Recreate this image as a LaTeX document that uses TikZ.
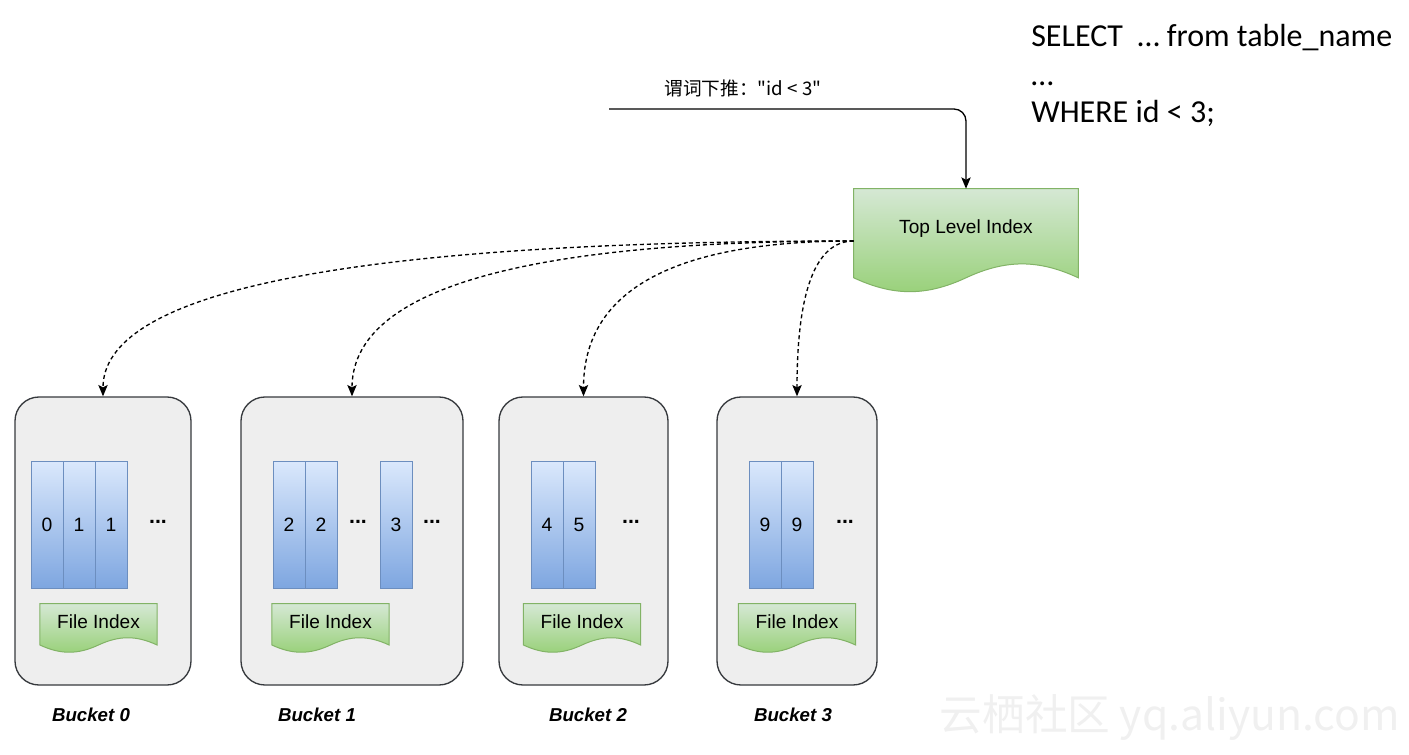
\documentclass[tikz,border=0pt]{standalone}
\usepackage{fontspec}
\setmainfont{Liberation Sans}
\newfontfamily\cjk{Noto Sans CJK SC}
\newfontfamily\sqlfont{Carlito}
\usetikzlibrary{arrows.meta,positioning,calc}
\definecolor{bucketfill}{HTML}{EEEEEE}
\definecolor{bucketline}{HTML}{36393D}
\definecolor{coltop}{HTML}{DAE8FC}
\definecolor{colbot}{HTML}{7EA6E0}
\definecolor{colline}{HTML}{6C8EBF}
\definecolor{idxtop}{HTML}{D5E8D4}
\definecolor{idxbot}{HTML}{97D077}
\definecolor{idxline}{HTML}{82B366}
\pgfdeclarelayer{bg}
\pgfdeclarelayer{mid}
\pgfsetlayers{bg,mid,main}

\begin{document}
\begin{tikzpicture}[x=0.75pt,y=-0.75pt,
        bucket/.style={draw=bucketline, fill=bucketfill, line width=1pt, rounded corners=18pt, minimum height=216pt},
        col/.style={draw=colline, line width=0.75pt, top color=coltop, bottom color=colbot, minimum width=24pt, minimum height=95.25pt, inner sep=0pt, outer sep=0pt, font=\fontsize{14.5}{16}\selectfont},
        dots/.style={font=\fontsize{16}{18}\selectfont\bfseries},
        docbox/.style={inner sep=0pt, text height=0.72em, font=\fontsize{14.3}{17}\selectfont},
        topidx/.style={docbox, minimum width=168pt, minimum height=78pt, text depth=19pt},
        fileidx/.style={docbox, minimum width=87.5pt, minimum height=36pt, text depth=6.8pt},
        docshade/.style={draw=idxline, line width=0.75pt, top color=idxtop, bottom color=idxbot},
        bname/.style={font=\fontsize{14}{16}\selectfont\bfseries\itshape},
        sql/.style={anchor=base west, inner sep=0pt, font=\sqlfont\fontsize{24}{28}\selectfont},
        push/.style={-{Stealth[length=8.5pt,width=7pt,inset=1.8pt]}, line width=1pt, rounded corners=9pt},
        fetch/.style={-{Stealth[length=8.5pt,width=7pt,inset=1.8pt]}, line width=1pt, dash pattern=on 3pt off 2.25pt},
    ]
    \useasboundingbox (0,0) rectangle (1409,755);

    % query
    \node[sql] (sql1) at (1031,47) {SELECT\ \ … from table\_name};
    \node[sql] (sql2) at (1031,86) {…};
    \node[sql] (sql3) at (1031,123) {WHERE id < 3;};

    % buckets
    \begin{pgfonlayer}{bg}
        \node[bucket, minimum width=132pt] (b0) at (103,541) {};
        \node[bucket, minimum width=166.5pt] (b1) at (352,541) {};
        \node[bucket, minimum width=126.75pt] (b2) at (583.5,541) {};
        \node[bucket, minimum width=120pt] (b3) at (797,541) {};
    \end{pgfonlayer}

    % files
    \node[col] (c00) at (47,524.5) {0};
    \node[col, right=0pt of c00] (c01) {1};
    \node[col, right=0pt of c01] (c02) {1};
    \node[dots] (d0) at (158,522) {...};

    \node[col] (c10) at (289,524.5) {2};
    \node[col, right=0pt of c10] (c11) {2};
    \node[dots] (d1a) at (358,522) {...};
    \node[col] (c12) at (396,524.5) {3};
    \node[dots] (d1b) at (432,522) {...};

    \node[col] (c20) at (547,524.5) {4};
    \node[col, right=0pt of c20] (c21) {5};
    \node[dots] (d2) at (631,522) {...};

    \node[col] (c30) at (765,524.5) {9};
    \node[col, right=0pt of c30] (c31) {9};
    \node[dots] (d3) at (845,522) {...};

    % index
    \node[topidx] (top) at (966,241) {Top Level Index};
    \node[fileidx] (fi0) at (98.5,628) {File Index};
    \node[fileidx] (fi1) at (330.5,628) {File Index};
    \node[fileidx] (fi2) at (582,628) {File Index};
    \node[fileidx] (fi3) at (797,628) {File Index};
    \begin{pgfonlayer}{mid}
        \foreach \n/\d in {top/11.6pt, fi0/5.45pt, fi1/5.45pt, fi2/5.45pt, fi3/5.45pt}
            \shade[docshade] (\n.north west) -- (\n.north east) -- ([yshift=\d]\n.south east)
                to[out=155,in=25] ([yshift=\d]\n.south) to[out=205,in=-25] ([yshift=\d]\n.south west) -- cycle;
    \end{pgfonlayer}

    \node[bname] (n0) at (91,715) {Bucket 0};
    \node[bname] (n1) at (317,715) {Bucket 1};
    \node[bname] (n2) at (588,715) {Bucket 2};
    \node[bname] (n3) at (793,715) {Bucket 3};

    % arrows
    \coordinate (qry) at (609,109);
    \node[font=\cjk\fontsize{14}{16}\selectfont] (pd) at (743,88) {谓词下推："id < 3"};
    \draw[push] (qry) -| (top.north);
    \foreach \b in {b0,b1,b2,b3}
        \draw[fetch] (top.west) .. controls ($(top.west)!0.7!(\b.north|-top.west)$)
            and ($(\b.north)!0.65!(\b.north|-top.west)$) .. (\b.north);

    \node[font=\cjk\fontsize{32}{36}\selectfont, text=black!6, anchor=west] (wm) at (935,718) {云栖社区 yq.aliyun.com};
\end{tikzpicture}
\end{document}
